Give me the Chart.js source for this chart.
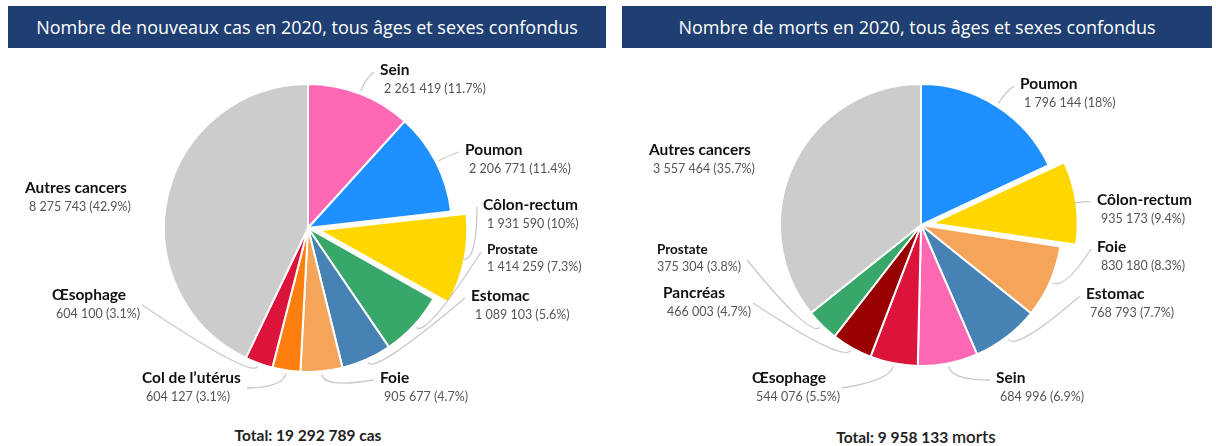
<!DOCTYPE html>
<html lang="fr">
<head>
<meta charset="utf-8">
<script src="https://cdn.jsdelivr.net/npm/chart.js@4.4.1/dist/chart.umd.min.js"></script>
<style>
	html, body { margin: 0; padding: 0; background: #fff; }
	body { width: 1216px; height: 446px; position: relative; overflow: hidden; font-family: Lato, "Open Sans", sans-serif; }
	.head { position: absolute; top: 6px; height: 42px; background: #1f3f73; color: #fff;
		font-family: "Open Sans", sans-serif; font-size: 18px; line-height: 42px; text-align: center; }
	.panel { position: absolute; top: 50px; width: 608px; height: 370px; }
	.total { position: absolute; top: 426px; font-size: 15.5px; font-weight: bold; color: #222; text-align: center; width: 608px; }
</style>
</head>
<body>
<div class="head" style="left:8px;width:598px;">Nombre de nouveaux cas en 2020, tous âges et sexes confondus</div>
<div class="head" style="left:622px;width:590px;">Nombre de morts en 2020, tous âges et sexes confondus</div>
<div class="panel" style="left:0"><canvas id="cas" width="608" height="370"></canvas></div>
<div class="panel" style="left:608px"><canvas id="morts" width="608" height="370"></canvas></div>
<div class="total" id="totCas" style="left:4px"></div>
<div class="total" id="totMorts" style="left:612px"></div>
<script>
// nouveaux cas 2020
const casLabels = ['Sein', 'Poumon', 'Côlon-rectum', 'Prostate', 'Estomac', 'Foie', 'Col de l’utérus', 'Œsophage', 'Autres cancers'];
const casValues = [2261419, 2206771, 1931590, 1414259, 1089103, 905677, 604127, 604100, 8275743];
const casColors = ['#ff69b4', '#1e90ff', '#ffd700', '#38a86a', '#4682b4', '#f4a55a', '#ff7f0e', '#dc143c', '#cccccc'];

// morts 2020
const mortsLabels = ['Poumon', 'Côlon-rectum', 'Foie', 'Estomac', 'Sein', 'Œsophage', 'Pancréas', 'Prostate', 'Autres cancers'];
const mortsValues = [1796144, 935173, 830180, 768793, 684996, 544076, 466003, 375304, 3557464];
const mortsColors = ['#1e90ff', '#ffd700', '#f4a55a', '#4682b4', '#ff69b4', '#dc143c', '#990000', '#38a86a', '#cccccc'];

// label placement (canvas px): [x, y, side of leader line, small]
const casLayout = [
	[380, 20, 'L'], [465, 100, 'L'], [483, 155, 'L'], [487, 200, 'L', true], [471, 246, 'L'],
	[380, 328, 'L'], [142, 328, 'R'], [52, 245, 'R'], [25, 138, null]
];
const mortsLayout = [
	[412, 34, 'L'], [489, 150, 'L'], [489, 197, 'L'], [478, 244, 'L'], [388, 328, 'L'],
	[144, 328, 'R'], [55, 243, 'R'], [49, 200, 'R', true], [41, 100, null]
];

function fmt(n) {
	return String(n).replace(/\B(?=(\d{3})+(?!\d))/g, ' ');
}

function pct(v, total) {
	return parseFloat((v / total * 100).toFixed(1));
}

// dessine les étiquettes et les lignes de rappel
const labelPlugin = {
	id: 'pieLabels',
	afterDatasetsDraw(chart, args, opts) {
		const ctx = chart.ctx;
		const ds = chart.data.datasets[0];
		const total = ds.data.reduce((a, b) => a + b, 0);
		const arcs = chart.getDatasetMeta(0).data;
		ctx.save();
		arcs.forEach((arc, i) => {
			const lay = opts.layout[i];
			const p = arc.getProps(['x', 'y', 'startAngle', 'endAngle', 'outerRadius'], true);
			const mid = (p.startAngle + p.endAngle) / 2;
			// ArcElement: translation offset/8 et rayon + offset/8
			const off = (ds.offset[i] || 0) / 8;
			const cx = p.x + Math.cos(mid) * off;
			const cy = p.y + Math.sin(mid) * off;
			const nameFont = lay[3] ? 'bold 13.5px Lato' : 'bold 15.5px Lato';
			ctx.font = nameFont;
			const nameW = ctx.measureText(chart.data.labels[i]).width;
			const valText = fmt(ds.data[i]) + ' (' + pct(ds.data[i], total) + '%)';
			ctx.font = '12.5px Lato';
			const valW = ctx.measureText(valText).width;

			if (lay[2]) {
				const r0 = p.outerRadius + off + 3;
				const ax = cx + Math.cos(mid) * r0, ay = cy + Math.sin(mid) * r0;
				const bx = cx + Math.cos(mid) * (r0 + 14), by = cy + Math.sin(mid) * (r0 + 14);
				let tx, ty;
				if (lay[2] === 'L') { tx = lay[0] - 6; ty = lay[1] + 2; }
				else { tx = lay[0] + Math.max(nameW, valW) + 6; ty = lay[1] + 10; }
				ctx.strokeStyle = '#c9c9c9';
				ctx.lineWidth = 1.3;
				ctx.beginPath();
				ctx.moveTo(ax, ay);
				ctx.quadraticCurveTo(bx, by, tx, ty);
				ctx.stroke();
			}

			ctx.textBaseline = 'middle';
			ctx.textAlign = 'left';
			ctx.fillStyle = '#111';
			ctx.font = nameFont;
			ctx.fillText(chart.data.labels[i], lay[0], lay[1]);
			ctx.fillStyle = '#555';
			ctx.font = '12.5px Lato';
			ctx.fillText(valText, lay[0] + (lay[3] ? 0 : 4), lay[1] + (lay[3] ? 17 : 19));
		});
		ctx.restore();
	}
};

function makePie(id, labels, values, colors, layout, radius, pad) {
	new Chart(document.getElementById(id), {
		type: 'pie',
		data: {
			labels: labels,
			datasets: [{
				data: values,
				backgroundColor: colors,
				borderColor: '#ffffff',
				borderWidth: 2,
				offset: labels.map(l => l === 'Côlon-rectum' ? 44 : 0)
			}]
		},
		options: {
			responsive: false,
			animation: false,
			radius: radius,
			layout: { padding: pad },
			plugins: {
				legend: { display: false },
				tooltip: { enabled: false },
				pieLabels: { layout: layout }
			}
		},
		plugins: [labelPlugin]
	});
}

makePie('cas', casLabels, casValues, casColors, casLayout, 144, { left: 8, right: 0, top: 0, bottom: 14 });
makePie('morts', mortsLabels, mortsValues, mortsColors, mortsLayout, 141, { left: 18, right: 0, top: 0, bottom: 20 });

document.getElementById('totCas').textContent = 'Total: ' + fmt(casValues.reduce((a, b) => a + b, 0)) + ' cas';
document.getElementById('totMorts').innerHTML = 'Total: ' + fmt(mortsValues.reduce((a, b) => a + b, 0)) +
	' <span style="font-size:17px;font-weight:600">morts</span>';
</script>
</body>
</html>
